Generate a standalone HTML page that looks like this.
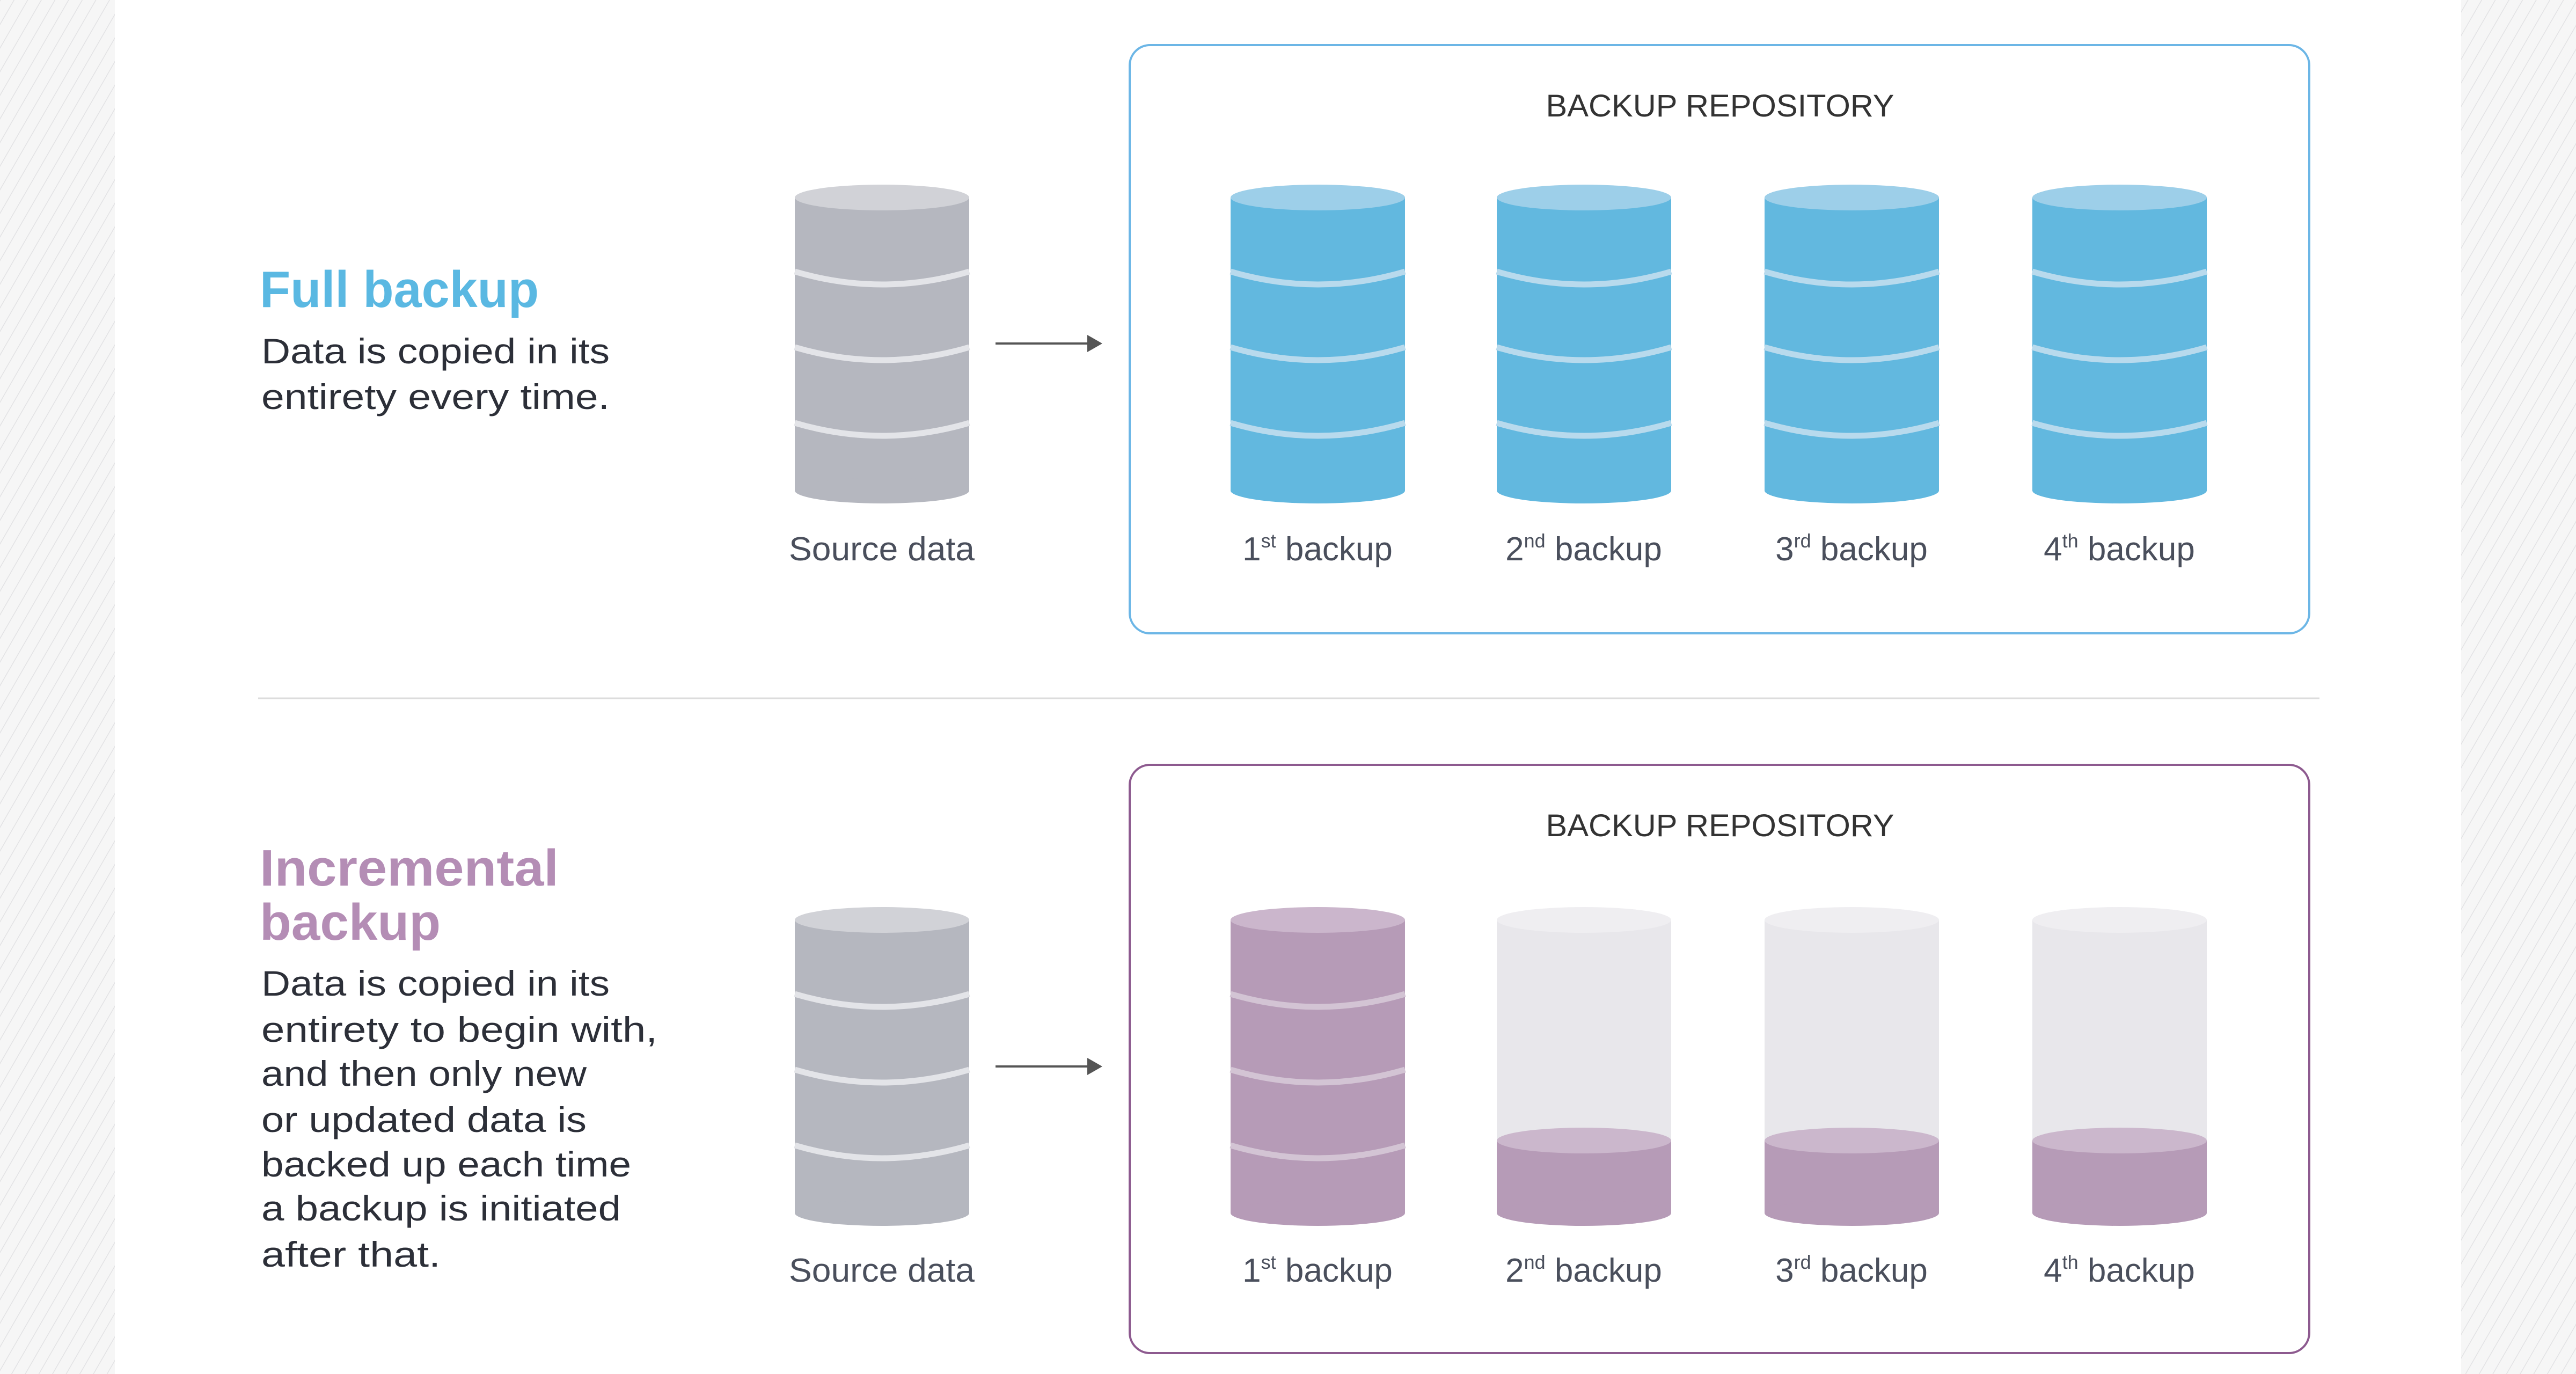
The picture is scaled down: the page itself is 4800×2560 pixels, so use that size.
<!DOCTYPE html>
<html><head><meta charset="utf-8"><style>html,body{margin:0;padding:0;background:#fff}svg{display:block}</style></head><body>
<svg width="4800" height="2560" viewBox="0 0 4800 2560" xmlns="http://www.w3.org/2000/svg" font-family="'Liberation Sans', 'DejaVu Sans', sans-serif">
<defs>
<pattern id="h" width="22" height="22" patternUnits="userSpaceOnUse" patternTransform="rotate(30)">
<rect width="22" height="22" fill="#f6f6f6"/><line x1="0" y1="0" x2="0" y2="22" stroke="#e2e2e4" stroke-width="3"/></pattern>
<marker id="ar" markerWidth="8" markerHeight="8" refX="6" refY="4" orient="auto" markerUnits="strokeWidth"><path d="M0,0 L7,4 L0,8 z" fill="#555"/></marker>
</defs>
<rect width="4800" height="2560" fill="#fff"/>
<rect x="0" y="0" width="214" height="2560" fill="url(#h)"/>
<rect x="4586" y="0" width="214" height="2560" fill="url(#h)"/>

<rect x="2105" y="84" width="2198" height="1096" rx="38" fill="none" stroke="#6cb6e6" stroke-width="4"/>
<rect x="2105" y="1425" width="2198" height="1096" rx="38" fill="none" stroke="#8d5a8f" stroke-width="4"/>
<line x1="481" y1="1301" x2="4322" y2="1301" stroke="#dcdcdc" stroke-width="3"/>

<text x="3205" y="217" font-size="58" fill="#333" text-anchor="middle" textLength="649" lengthAdjust="spacingAndGlyphs">BACKUP REPOSITORY</text>
<text x="3205" y="1558" font-size="58" fill="#333" text-anchor="middle" textLength="649" lengthAdjust="spacingAndGlyphs">BACKUP REPOSITORY</text>

<text x="484" y="572" font-size="96" font-weight="bold" fill="#5ab8e2" textLength="520" lengthAdjust="spacingAndGlyphs">Full backup</text>
<g font-size="66" fill="#2c2f38">
<text x="487" y="677" textLength="649" lengthAdjust="spacingAndGlyphs">Data is copied in its</text>
<text x="487" y="762" textLength="649" lengthAdjust="spacingAndGlyphs">entirety every time.</text>
</g>
<text x="484" y="1650" font-size="96" font-weight="bold" fill="#b48db5" textLength="557" lengthAdjust="spacingAndGlyphs">Incremental</text>
<text x="484" y="1751" font-size="96" font-weight="bold" fill="#b48db5" textLength="337" lengthAdjust="spacingAndGlyphs">backup</text>
<g font-size="66" fill="#2c2f38">
<text x="487" y="1855" textLength="649" lengthAdjust="spacingAndGlyphs">Data is copied in its</text>
<text x="487" y="1941" textLength="738" lengthAdjust="spacingAndGlyphs">entirety to begin with,</text>
<text x="487" y="2023" textLength="606" lengthAdjust="spacingAndGlyphs">and then only new</text>
<text x="487" y="2109" textLength="606" lengthAdjust="spacingAndGlyphs">or updated data is</text>
<text x="487" y="2192" textLength="689" lengthAdjust="spacingAndGlyphs">backed up each time</text>
<text x="487" y="2274" textLength="670" lengthAdjust="spacingAndGlyphs">a backup is initiated</text>
<text x="487" y="2360" textLength="334" lengthAdjust="spacingAndGlyphs">after that.</text>
</g>

<line x1="1855" y1="640" x2="2050" y2="640" stroke="#555" stroke-width="4" marker-end="url(#ar)"/>
<line x1="1855" y1="1987" x2="2050" y2="1987" stroke="#555" stroke-width="4" marker-end="url(#ar)"/>

<rect x="1481" y="368" width="325" height="546" fill="#b5b7bf"/>
<ellipse cx="1643.5" cy="914" rx="162.5" ry="24" fill="#b5b7bf"/>
<ellipse cx="1643.5" cy="368" rx="162.5" ry="24" fill="#d1d2d7"/>
<g fill="#62b8df">
<rect x="2293" y="368" width="325" height="546"/><ellipse cx="2455.5" cy="914" rx="162.5" ry="24"/>
<rect x="2789" y="368" width="325" height="546"/><ellipse cx="2951.5" cy="914" rx="162.5" ry="24"/>
<rect x="3288" y="368" width="325" height="546"/><ellipse cx="3450.5" cy="914" rx="162.5" ry="24"/>
<rect x="3787" y="368" width="325" height="546"/><ellipse cx="3949.5" cy="914" rx="162.5" ry="24"/>
</g>
<g fill="#9dcfe9">
<ellipse cx="2455.5" cy="368" rx="162.5" ry="24"/><ellipse cx="2951.5" cy="368" rx="162.5" ry="24"/>
<ellipse cx="3450.5" cy="368" rx="162.5" ry="24"/><ellipse cx="3949.5" cy="368" rx="162.5" ry="24"/>
</g>
<g fill="none" stroke-width="11">
<g stroke="#e3e4e8">
<path d="M1481,506 Q1643.5,554 1806,506"/><path d="M1481,647 Q1643.5,695 1806,647"/><path d="M1481,788 Q1643.5,836 1806,788"/>
</g>
<g stroke="#b8daed">
<path d="M2293,506 Q2455.5,554 2618,506"/><path d="M2293,647 Q2455.5,695 2618,647"/><path d="M2293,788 Q2455.5,836 2618,788"/>
<path d="M2789,506 Q2951.5,554 3114,506"/><path d="M2789,647 Q2951.5,695 3114,647"/><path d="M2789,788 Q2951.5,836 3114,788"/>
<path d="M3288,506 Q3450.5,554 3613,506"/><path d="M3288,647 Q3450.5,695 3613,647"/><path d="M3288,788 Q3450.5,836 3613,788"/>
<path d="M3787,506 Q3949.5,554 4112,506"/><path d="M3787,647 Q3949.5,695 4112,647"/><path d="M3787,788 Q3949.5,836 4112,788"/>
</g>
</g>

<rect x="1481" y="1714" width="325" height="546" fill="#b5b7bf"/>
<ellipse cx="1643.5" cy="2260" rx="162.5" ry="24" fill="#b5b7bf"/>
<ellipse cx="1643.5" cy="1714" rx="162.5" ry="24" fill="#d1d2d7"/>
<rect x="2293" y="1714" width="325" height="546" fill="#b69bb7"/>
<ellipse cx="2455.5" cy="2260" rx="162.5" ry="24" fill="#b69bb7"/>
<ellipse cx="2455.5" cy="1714" rx="162.5" ry="24" fill="#cbb6cc"/>
<g fill="#e8e7eb">
<rect x="2789" y="1714" width="325" height="420"/><ellipse cx="2951.5" cy="1714" rx="162.5" ry="24" fill="#efeef1"/>
<rect x="3288" y="1714" width="325" height="420"/><ellipse cx="3450.5" cy="1714" rx="162.5" ry="24" fill="#efeef1"/>
<rect x="3787" y="1714" width="325" height="420"/><ellipse cx="3949.5" cy="1714" rx="162.5" ry="24" fill="#efeef1"/>
</g>
<g fill="#b69bb7">
<rect x="2789" y="2125" width="325" height="135"/><ellipse cx="2951.5" cy="2260" rx="162.5" ry="24"/>
<rect x="3288" y="2125" width="325" height="135"/><ellipse cx="3450.5" cy="2260" rx="162.5" ry="24"/>
<rect x="3787" y="2125" width="325" height="135"/><ellipse cx="3949.5" cy="2260" rx="162.5" ry="24"/>
</g>
<g fill="#cbb7cc">
<ellipse cx="2951.5" cy="2125" rx="162.5" ry="24"/><ellipse cx="3450.5" cy="2125" rx="162.5" ry="24"/><ellipse cx="3949.5" cy="2125" rx="162.5" ry="24"/>
</g>
<g fill="none" stroke-width="11">
<g stroke="#e3e4e8">
<path d="M1481,1852 Q1643.5,1900 1806,1852"/><path d="M1481,1993 Q1643.5,2041 1806,1993"/><path d="M1481,2134 Q1643.5,2182 1806,2134"/>
</g>
<g stroke="#d3c4d4">
<path d="M2293,1852 Q2455.5,1900 2618,1852"/><path d="M2293,1993 Q2455.5,2041 2618,1993"/><path d="M2293,2134 Q2455.5,2182 2618,2134"/>
</g>
</g>

<g font-size="62" fill="#4a4f5c" text-anchor="middle">
<text x="1643" y="1044" textLength="346" lengthAdjust="spacingAndGlyphs">Source data</text>
<text x="1643" y="2388" textLength="346" lengthAdjust="spacingAndGlyphs">Source data</text>
<text x="2455" y="1044">1<tspan font-size="36" dy="-24">st</tspan><tspan dy="24"> backup</tspan></text>
<text x="2951" y="1044">2<tspan font-size="36" dy="-24">nd</tspan><tspan dy="24"> backup</tspan></text>
<text x="3450" y="1044">3<tspan font-size="36" dy="-24">rd</tspan><tspan dy="24"> backup</tspan></text>
<text x="3949" y="1044">4<tspan font-size="36" dy="-24">th</tspan><tspan dy="24"> backup</tspan></text>
<text x="2455" y="2388">1<tspan font-size="36" dy="-24">st</tspan><tspan dy="24"> backup</tspan></text>
<text x="2951" y="2388">2<tspan font-size="36" dy="-24">nd</tspan><tspan dy="24"> backup</tspan></text>
<text x="3450" y="2388">3<tspan font-size="36" dy="-24">rd</tspan><tspan dy="24"> backup</tspan></text>
<text x="3949" y="2388">4<tspan font-size="36" dy="-24">th</tspan><tspan dy="24"> backup</tspan></text>
</g>
</svg>
</body></html>
